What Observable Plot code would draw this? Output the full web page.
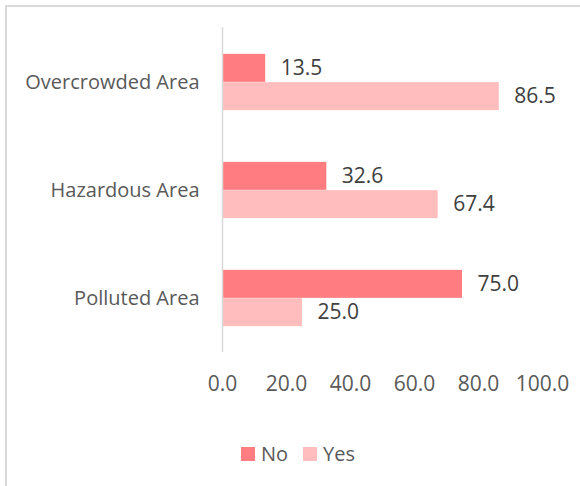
<!DOCTYPE html>
<html>
<head>
<meta charset="utf-8">
<script src="https://cdn.jsdelivr.net/npm/d3@7"></script>
<script src="https://cdn.jsdelivr.net/npm/@observablehq/plot@0.6"></script>
<style>
  html, body { margin: 0; padding: 0; background: #fff; }
  #wrap { position: relative; width: 580px; height: 486px; overflow: hidden; font-family: "Open Sans", sans-serif; }
  #frame { position: absolute; left: 5px; top: 5px; right: -10px; bottom: -10px; border-top: 2px solid #d9d9d9; border-left: 2px solid #d9d9d9; }
  #chart { position: absolute; left: 0; top: 0; }
  #legend { position: absolute; top: 440px; left: 241px; display: flex; align-items: center; font-size: 20px; color: #595959; }
  .sw { width: 14px; height: 14px; display: inline-block; margin-right: 6px; }
  .item { display: flex; align-items: center; margin-right: 15px; }
  #chart g[aria-label="x-axis tick label"] text { font-size: 21px; }
</style>
</head>
<body>
<div id="wrap">
  <div id="frame"></div>
  <div id="chart"></div>
  <div id="legend"></div>
</div>
<script>
const categories = ["Overcrowded Area", "Hazardous Area", "Polluted Area"];
const series = ["No", "Yes"];
const noValues = [13.5, 32.6, 75.0];
const yesValues = [86.5, 67.4, 25.0];
const xTicks = [0, 20, 40, 60, 80, 100];
const colors = {No: "#FF7C80", Yes: "#FFBDBD"};

const noData = categories.map((c, i) => ({category: c, series: "No", value: noValues[i]}));
const yesData = categories.map((c, i) => ({category: c, series: "Yes", value: yesValues[i]}));

const band = (352 - 27) / 3;
const barH = 28.3;

const chart = Plot.plot({
  width: 580,
  height: 400,
  marginTop: 27,
  marginBottom: 48,
  marginLeft: 222,
  marginRight: 38,
  style: {fontFamily: "'Open Sans', sans-serif", fontSize: "20px", color: "#595959", background: "transparent"},
  x: {domain: [0, 100], ticks: xTicks, tickFormat: d => d.toFixed(1), tickSize: 0, tickPadding: 24, label: null},
  y: {domain: categories, padding: 0, tickSize: 0, tickPadding: 23, label: null},
  marks: [
    Plot.barX(noData, {x: "value", y: "category", fill: colors.No, insetTop: band / 2 - barH, insetBottom: band / 2}),
    Plot.barX(yesData, {x: "value", y: "category", fill: colors.Yes, insetTop: band / 2, insetBottom: band / 2 - barH}),
    Plot.text(noData, {x: "value", y: "category", text: d => d.value.toFixed(1), dx: 15, dy: -barH / 2, textAnchor: "start", fill: "#404040", fontSize: 21}),
    Plot.text(yesData, {x: "value", y: "category", text: d => d.value.toFixed(1), dx: 15, dy: barH / 2, textAnchor: "start", fill: "#404040", fontSize: 21}),
    Plot.ruleX([0], {stroke: "#d9d9d9", strokeWidth: 1.5})
  ]
});
document.getElementById("chart").appendChild(chart);

const legend = document.getElementById("legend");
series.forEach(s => {
  const item = document.createElement("div");
  item.className = "item";
  const sw = document.createElement("span");
  sw.className = "sw";
  sw.style.background = colors[s];
  const lab = document.createElement("span");
  lab.textContent = s;
  item.appendChild(sw);
  item.appendChild(lab);
  legend.appendChild(item);
});
</script>
</body>
</html>
